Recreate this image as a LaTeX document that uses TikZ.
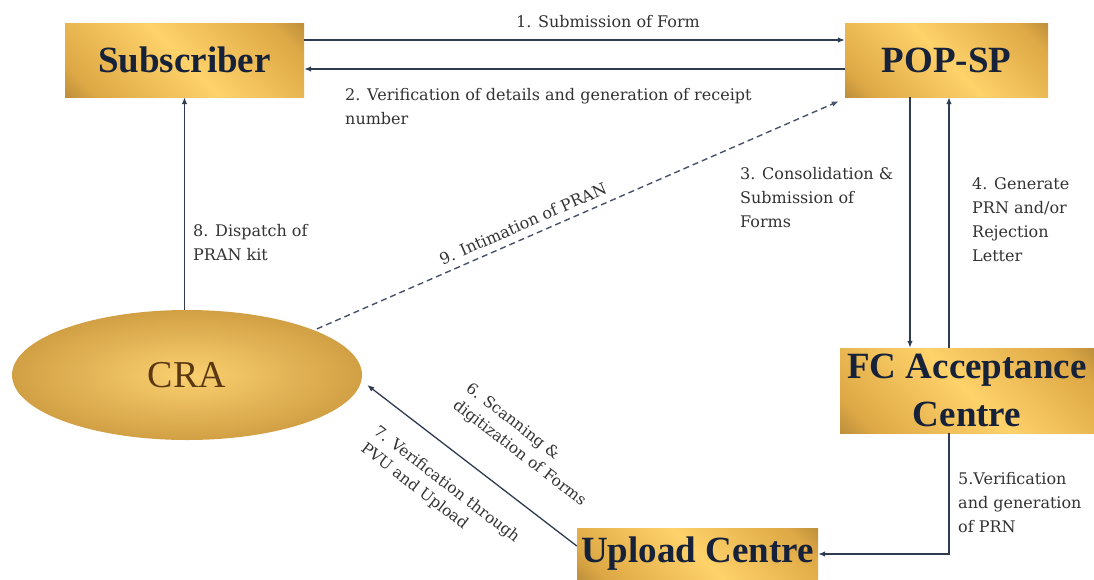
\documentclass[tikz,border=0pt]{standalone}
\usepackage{fontspec}
\setmainfont{Liberation Serif}
\newfontfamily\lblfont{DejaVu Serif}
\usetikzlibrary{arrows.meta,shapes.geometric,calc}
\definecolor{golddark}{HTML}{80602A}
\definecolor{goldmid}{HTML}{DDA845}
\definecolor{goldlight}{HTML}{FFD26A}
\definecolor{titleblue}{HTML}{16213A}
\definecolor{crabrown}{HTML}{5A3812}
\definecolor{lblgray}{HTML}{333333}
\definecolor{arrowc}{HTML}{2E3B50}
\definecolor{dashc}{HTML}{47536B}
\definecolor{craIn}{HTML}{FAD070}
\definecolor{craOut}{HTML}{D2A044}
\pgfdeclarehorizontalshading{goldbox}{100bp}{color(0bp)=(golddark); color(22bp)=(goldmid); color(50bp)=(goldlight); color(78bp)=(goldmid); color(100bp)=(golddark)}
\begin{document}
\begin{tikzpicture}[x=1pt,y=-1pt,
  box/.style={rectangle, shade, shading=goldbox, shading angle=45, inner sep=0pt,
    font=\fontsize{37}{48}\selectfont\bfseries, text=titleblue, align=center},
  lbl/.style={font=\lblfont\fontsize{16}{24}\selectfont, text=lblgray, inner sep=0pt, align=left},
  rlbl/.style={font=\lblfont\fontsize{15.5}{21}\selectfont, text=lblgray, inner sep=0pt, align=left},
  arr/.style={draw=arrowc, line width=1.3pt, -{Latex[length=7pt,width=5.5pt]}},
  dasharr/.style={draw=dashc, line width=1.4pt, dash pattern=on 6pt off 4pt, -{Latex[length=7pt,width=5.5pt]}}
]
\useasboundingbox (0,0) rectangle (1094,579);
\fill[white] (0,0) rectangle (1094,579);

% boxes
\node[box, minimum width=239pt, minimum height=74pt] (sub) at (184.5,60) {Subscriber};
\node[box, minimum width=203pt, minimum height=74pt] (pop) at (946.5,60) {POP-SP};
\node[box, minimum width=254pt, minimum height=85pt] (fc) at (967,390.5) {FC Acceptance\\Centre};
\node[box, minimum width=241pt, minimum height=52pt] (up) at (697.5,554) {Upload Centre};
\node[ellipse, inner color=craIn, outer color=craOut, minimum width=350pt, minimum height=130pt, inner sep=0pt,
  font=\fontsize{38}{40}\selectfont, text=crabrown] (cra) at (187,375) {CRA};

\coordinate (x3) at (910,0);
\coordinate (x4) at (949,0);

% connectors
\draw[arr] ([yshift=20pt]sub.east) -- ([yshift=20pt]pop.west);
\draw[arr] ([yshift=-9pt]pop.west) -- ([yshift=-9pt]sub.east);
\draw[arr] (pop.south -| x3) -- (fc.north -| x3);
\draw[arr] (fc.north -| x4) -- (pop.south -| x4);
\draw[arr] (fc.south -| x4) |- (up.east);
\draw[arr] (sub.south |- cra.north) -- (sub.south);
\draw[arr] ([yshift=8pt]up.west) -- ([xshift=5pt,yshift=-10pt]cra.east);
\draw[dasharr] ([xshift=6pt]cra.north east) -- ([xshift=-6pt,yshift=-4pt]pop.south west);

% labels
\node[lbl] (l1) at (608,22) {1. Submission of Form};
\node[lbl, anchor=north west] (l2) at (345,88) {2. Verification of details and generation of receipt\\number};
\node[lbl, anchor=north west] (l3) at (740,167) {3. Consolidation \&\\Submission of\\Forms};
\node[lbl, anchor=north west] (l4) at (972,177) {4. Generate\\PRN and/or\\Rejection\\Letter};
\node[lbl, anchor=north west] (l5) at (958,472) {5.Verification\\and generation\\of PRN};
\node[rlbl, anchor=north west, rotate=-37.6] (l6) at (472,381) {6. Scanning \&\\digitization of Forms};
\node[rlbl, anchor=north west, rotate=-37.6] (l7) at (380,424) {7. Verification through\\PVU and Upload};
\node[lbl, anchor=north west] (l8) at (193,224) {8. Dispatch of\\PRAN kit};
\node[lbl, anchor=west, rotate=23.7] (l9) at (440,260) {9. Intimation of PRAN};
\end{tikzpicture}
\end{document}
